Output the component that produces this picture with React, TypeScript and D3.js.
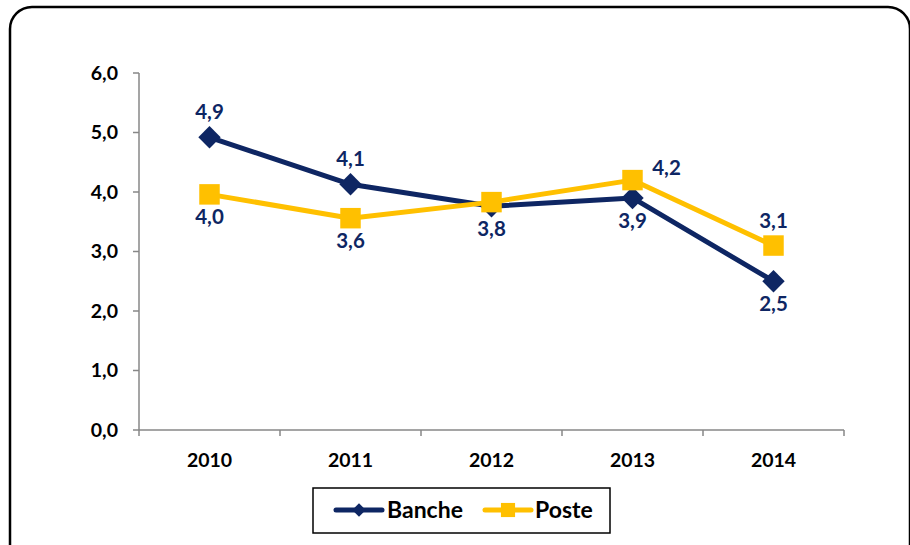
import React from 'react';
import { scaleBand, scaleLinear, line, symbol, symbolSquare } from 'd3';

const years = ['2010', '2011', '2012', '2013', '2014'];
const banche = [4.92, 4.13, 3.76, 3.9, 2.5];
const poste = [3.96, 3.56, 3.83, 4.2, 3.1];
const yTicks = [0, 1, 2, 3, 4, 5, 6];

// where each value label sits relative to its marker
const bancheLabelPos = ['above', 'above', 'below', 'below', 'below'];
const posteLabelPos = ['below', 'below', 'none', 'right', 'above'];

const NAVY = '#0E2663';
const GOLD = '#FFC000';
const AXIS = '#878787';
const FONT = 'Lato, "Open Sans", sans-serif';

const fmt = (v: number) => v.toFixed(1).replace('.', ',');

function App() {
  const width = 910;
  const height = 545;

  const x = scaleBand<string>().domain(years).range([139, 844]);
  const y = scaleLinear().domain([0, 6]).range([430, 73]);
  const cx = (d: string) => (x(d) as number) + x.bandwidth() / 2;

  const path = line<number>()
    .x((_, i) => cx(years[i]))
    .y((v) => y(v));

  // diamonds are squares turned by 45 degrees
  const diamond = symbol().type(symbolSquare).size(250)() as string;
  const square = symbol().type(symbolSquare).size(420)() as string;
  const diamondSmall = symbol().type(symbolSquare).size(90)() as string;
  const squareSmall = symbol().type(symbolSquare).size(200)() as string;

  const labelXY = (pos: string, px: number, py: number) => {
    if (pos === 'above') return { x: px, y: py - 18 };
    if (pos === 'below') return { x: px, y: py + 30 };
    return { x: px + 34, y: py - 5 };
  };

  const series = [
    { name: 'Banche', values: banche, color: NAVY, marker: diamond, rot: 45, pos: bancheLabelPos },
    { name: 'Poste', values: poste, color: GOLD, marker: square, rot: 0, pos: posteLabelPos },
  ];

  return (
    <svg
      width={width}
      height={height}
      style={{ position: 'absolute', left: 0, top: 0, display: 'block' }}
      fontFamily={FONT}
      fontWeight="bold"
    >
      <rect x={0} y={0} width={width} height={height} fill="#fff" />
      <rect x={10} y={7} width={900} height={570} rx={22} fill="none" stroke="#000" strokeWidth={2.5} />

      {/* y axis */}
      <line x1={139} x2={139} y1={y(6)} y2={y(0)} stroke={AXIS} strokeWidth={1.5} />
      {yTicks.map((t) => (
        <g key={t}>
          <line x1={133} x2={139} y1={y(t)} y2={y(t)} stroke={AXIS} strokeWidth={1.5} />
          <text x={118} y={y(t)} dy="0.35em" textAnchor="end" fontSize={19.5} fill="#000">
            {fmt(t)}
          </text>
        </g>
      ))}

      {/* x axis */}
      <line x1={139} x2={844} y1={y(0)} y2={y(0)} stroke={AXIS} strokeWidth={1.5} />
      {years.map((d) => (
        <line key={'t' + d} x1={x(d)} x2={x(d)} y1={y(0)} y2={y(0) + 6} stroke={AXIS} strokeWidth={1.5} />
      ))}
      <line x1={844} x2={844} y1={y(0)} y2={y(0) + 6} stroke={AXIS} strokeWidth={1.5} />
      {years.map((d) => (
        <text key={'l' + d} x={cx(d)} y={467} textAnchor="middle" fontSize={19.5} fill="#000">
          {d}
        </text>
      ))}

      {/* lines and markers */}
      {series.map((s) => (
        <g key={s.name}>
          <path d={path(s.values) as string} fill="none" stroke={s.color} strokeWidth={5} strokeLinejoin="round" />
          {s.values.map((v, i) => (
            <path
              key={i}
              d={s.marker}
              transform={`translate(${cx(years[i])},${y(v)}) rotate(${s.rot})`}
              fill={s.color}
            />
          ))}
        </g>
      ))}

      {/* value labels */}
      {series.map((s) =>
        s.values.map((v, i) => {
          if (s.pos[i] === 'none') return null;
          const p = labelXY(s.pos[i], cx(years[i]), y(v));
          return (
            <text key={s.name + i} x={p.x} y={p.y} textAnchor="middle" fontSize={20.5} fill={NAVY}>
              {fmt(v)}
            </text>
          );
        })
      )}

      {/* legend */}
      <rect x={313} y={488} width={297} height={45} fill="#fff" stroke="#000" strokeWidth={1.5} />
      <line x1={336} x2={382} y1={510} y2={510} stroke={NAVY} strokeWidth={5} strokeLinecap="round" />
      <path d={diamondSmall} transform="translate(359,510) rotate(45)" fill={NAVY} />
      <text x={387} y={510} dy="0.35em" fontSize={23} fill="#000">Banche</text>
      <line x1={485} x2={531} y1={510} y2={510} stroke={GOLD} strokeWidth={5} strokeLinecap="round" />
      <path d={squareSmall} transform="translate(508,510)" fill={GOLD} />
      <text x={535} y={510} dy="0.35em" fontSize={23} fill="#000">Poste</text>
    </svg>
  );
}

export default App;
